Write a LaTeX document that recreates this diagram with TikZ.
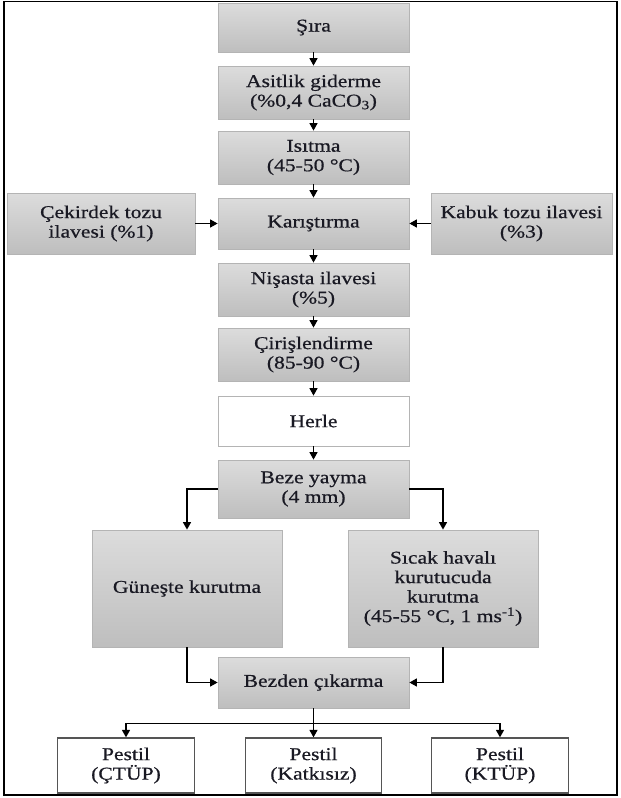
\documentclass[tikz,border=0pt]{standalone}
\usepackage{fontspec}
\setmainfont{Liberation Serif}[FakeStretch=1.2,FakeBold=0.7]
\usetikzlibrary{arrows.meta,calc}
\definecolor{boxtop}{RGB}{220,220,220}
\definecolor{boxbot}{RGB}{190,190,190}
\definecolor{boxline}{RGB}{180,180,180}
\definecolor{txt}{RGB}{25,25,35}
\definecolor{pline}{RGB}{85,85,85}
\tikzset{
  gbox/.style={draw=boxline, line width=0.8pt, top color=boxtop, bottom color=boxbot,
    align=center, inner sep=0pt, text=txt, font=\fontsize{18}{19.5}\selectfont},
  wbox/.style={draw=boxline, line width=0.8pt, fill=white,
    align=center, inner sep=0pt, text=txt, font=\fontsize{18}{19.5}\selectfont},
  pbox/.style={draw=pline, line width=1.3pt, fill=white,
    align=center, inner sep=0pt, text=txt, font=\fontsize{18}{19.5}\selectfont},
  arr/.style={draw=black, line width=1.4pt, -{Triangle[width=8pt,length=7.5pt]}},
}
\begin{document}
\begin{tikzpicture}[x=1pt,y=-1pt]
\useasboundingbox (0,0) rectangle (621,798);
\draw[line width=1.6pt] (4,1.5) rectangle (617,795);

\node[gbox, minimum width=191pt, minimum height=49pt] (sira) at (313.5,27.5) {Şıra};
\node[gbox, minimum width=191pt, minimum height=53pt] (asit) at (313.5,92.5) {Asitlik giderme\\(\%0,4 CaCO\textsubscript{3})};
\node[gbox, minimum width=191pt, minimum height=53pt] (isit) at (313.5,157.5) {Isıtma\\(45-50 °C)};
\node[gbox, minimum width=191pt, minimum height=51pt] (kar) at (313.5,223.5) {Karıştırma};
\node[gbox, minimum width=188pt, minimum height=61pt] (cek) at (101,223.5) {Çekirdek tozu\\ilavesi (\%1)};
\node[gbox, minimum width=181pt, minimum height=61pt] (kab) at (521.5,223.5) {Kabuk tozu ilavesi\\(\%3)};
\node[gbox, minimum width=191pt, minimum height=53pt] (nis) at (313.5,289.5) {Nişasta ilavesi\\(\%5)};
\node[gbox, minimum width=191pt, minimum height=53pt] (cir) at (313.5,354.5) {Çirişlendirme\\(85-90 °C)};
\node[wbox, minimum width=191pt, minimum height=50pt] (herle) at (313.5,421) {Herle};
\node[gbox, minimum width=191pt, minimum height=58pt] (beze) at (313.5,489) {Beze yayma\\(4 mm)};
\node[gbox, minimum width=190pt, minimum height=117pt] (gun) at (187,588.5) {Güneşte kurutma};
\node[gbox, minimum width=190pt, minimum height=117pt] (sic) at (443,588.5) {Sıcak havalı\\kurutucuda\\kurutma\\(45-55 °C, 1 ms\textsuperscript{-1})};
\node[gbox, minimum width=191pt, minimum height=51pt] (bezden) at (313.5,682.5) {Bezden çıkarma};
\node[pbox, minimum width=137pt, minimum height=55pt] (p1) at (126,765.5) {Pestil\\(ÇTÜP)};
\node[pbox, minimum width=136pt, minimum height=55pt] (p2) at (313.5,765.5) {Pestil\\(Katkısız)};
\node[pbox, minimum width=137pt, minimum height=55pt] (p3) at (500,765.5) {Pestil\\(KTÜP)};

\draw[arr] (sira) -- (asit);
\draw[arr] (asit) -- (isit);
\draw[arr] (isit) -- (kar);
\draw[arr] (cek) -- (kar);
\draw[arr] (kab) -- (kar);
\draw[arr] (kar) -- (nis);
\draw[arr] (nis) -- (cir);
\draw[arr] (cir) -- (herle);
\draw[arr] (herle) -- (beze);
\draw[arr] (beze.west) -| (gun.north);
\draw[arr] (beze.east) -| (sic.north);
\draw[arr] (gun.south) |- (bezden.west);
\draw[arr] (sic.south) |- (bezden.east);
\coordinate (split) at ($(bezden.south)+(0,15)$);
\draw[arr] (bezden.south) -- (p2.north);
\draw[arr] (split) -| (p1.north);
\draw[arr] (split) -| (p3.north);
\end{tikzpicture}
\end{document}
